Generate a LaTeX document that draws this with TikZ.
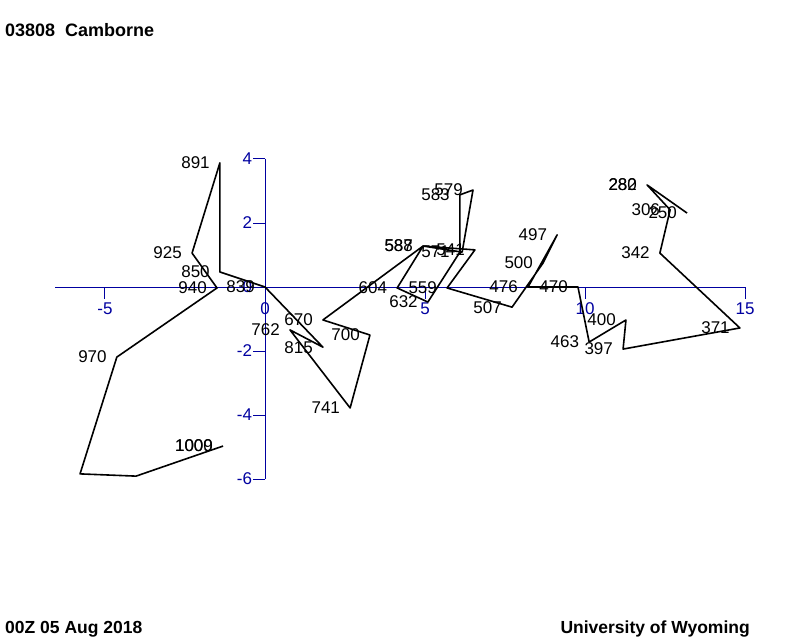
\documentclass[tikz,border=0pt]{standalone}
\usepackage{fontspec}
\setmainfont{Liberation Sans}
\usepackage{tikz}
\usepackage{xcolor}
\usetikzlibrary{positioning}
\definecolor{axisblue}{RGB}{0,0,160}

\begin{document}
\begin{tikzpicture}[x=32pt, y=32pt,
    hodoline/.style={line width=1.6pt, line join=round},
    axisline/.style={draw=axisblue, line width=1pt},
    lvl/.style={inner sep=0pt, font=\fontsize{17}{20}\selectfont},
    axlbl/.style={inner sep=0pt, text=axisblue, font=\fontsize{17}{20}\selectfont},
    tagtext/.style={inner sep=0pt, font=\fontsize{18}{22}\selectfont\bfseries},
  ]
  % page frame
  \useasboundingbox (-8.28125,-11.03125) rectangle (16.71875,8.96875);

  % Axes
  \coordinate (xmin) at (-6.56,0);
  \coordinate (xmax) at (15,0);
  \coordinate (ytop) at (0,4);
  \coordinate (ybot) at (0,-6);
  \draw[axisline] (xmin) -- (xmax);
  \draw[axisline] (ytop) -- (ybot);
  \foreach \u in {-5,0,5,10,15} {
    \draw[axisline] (\u,0) -- (\u,-0.375);
    \node[axlbl] (xl\u) at (\u,-0.69) {\u};
  }
  \foreach \v in {4,2,0,-2,-4,-6} {
    \draw[axisline] (0,\v) -- (-0.375,\v);
    \node[axlbl, anchor=east] (yl\v) at (-0.40,\v) {\v};
  }

  % Wind points
  \foreach \p/\u/\v in {1009/-1.31/-4.97, 1000/-1.31/-4.97,
      970/-4.63/-2.19, 940/-1.50/-0.03, 925/-2.28/1.06, 891/-1.41/3.88,
      850/-1.41/0.47, 839/0/0, 815/1.81/-1.88, 762/0.78/-1.34,
      741/2.66/-3.78, 700/3.28/-1.50, 670/1.81/-1.03, 632/5.09/-0.47,
      604/4.13/-0.03, 588/4.94/1.28, 587/4.94/1.28, 583/6.09/2.88,
      579/6.50/3.03, 571/6.09/1.09, 559/5.69/-0.03, 541/6.56/1.16,
      507/7.72/-0.63, 500/8.69/0.75, 497/9.13/1.63, 476/8.22/0,
      470/9.78/0, 463/10.13/-1.72, 400/11.28/-1.03, 397/11.19/-1.94,
      371/14.84/-1.28, 342/12.34/1.06, 306/12.66/2.41, 282/11.94/3.19,
      280/11.94/3.19, 250/13.19/2.31} {
    \coordinate (p\p) at (\u,\v);
    \node[lvl, left=10pt of p\p] (l\p) {\p};
  }
  \coordinate (q1) at (-4.03,-5.91);
  \coordinate (q2) at (-5.78,-5.84);
  \coordinate (q3) at (6.16,1.09);

  % Hodograph
  \draw[hodoline] (p1009) -- (q1) -- (q2) -- (p970) -- (p940) -- (p925)
    -- (p891) -- (p850) -- (p839) -- (p815) -- (p762) -- (p741) -- (p700)
    -- (p670) -- (p588) -- (p604) -- (p632) -- (p571) -- (p583) -- (p579)
    -- (q3) -- (p588) -- (p541) -- (p559) -- (p507) -- (p500) -- (p497)
    -- (p476) -- (p470) -- (p463) -- (p400) -- (p397) -- (p371) -- (p342)
    -- (p306) -- (p282) -- (p250);

  % Captions
  \node[tagtext, anchor=base west] (stn) at (-8.125,7.8125) {03808~~Camborne};
  \node[tagtext, anchor=base west, font=\fontsize{17.5}{21}\selectfont\bfseries]
    (stamp) at (-8.125,-10.8125) {00Z 05 Aug 2018};
  \node[tagtext, anchor=base east, font=\fontsize{17.5}{21}\selectfont\bfseries]
    (uwyo) at (15.156,-10.8125) {University of Wyoming};
\end{tikzpicture}
\end{document}
